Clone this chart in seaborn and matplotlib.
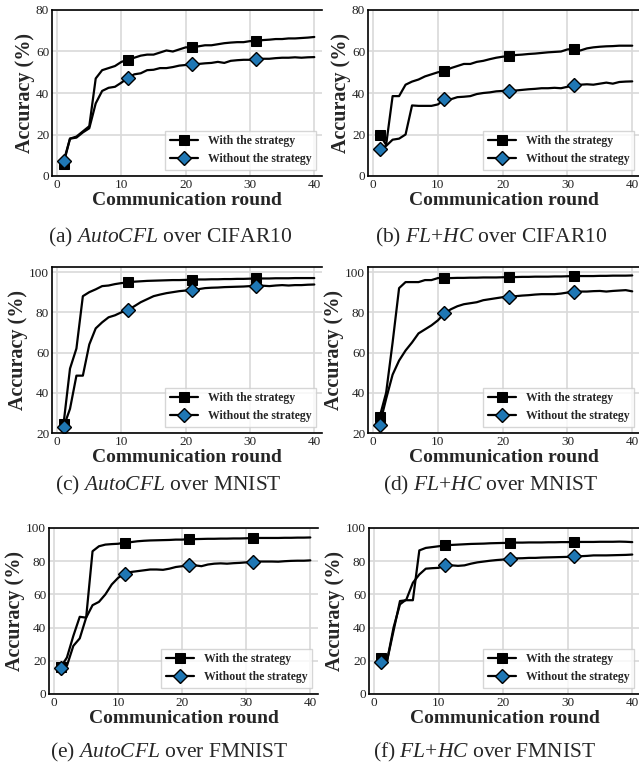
import numpy as np
import pandas as pd
import matplotlib
matplotlib.use('Agg')
import matplotlib.pyplot as plt
import seaborn as sns

rounds = list(range(1, 41))

# (a) AutoCFL over CIFAR10
a_with = [6, 18, 19, 21.5, 24, 47, 51, 52, 53, 55, 56, 57, 58, 58.5, 58.5, 59.5, 60.5, 60, 61, 62,
          62, 62.5, 63, 63, 63.5, 64, 64.3, 64.5, 64.5, 65, 65, 65.5, 65.7, 66, 66, 66.3, 66.3, 66.5, 66.7, 67]
a_without = [7, 18, 18.5, 21, 23, 35, 41, 42.5, 43, 45, 47.3, 49, 49.5, 51, 51.2, 52, 52, 52.5, 53.2, 53.5,
             53.8, 54, 54.3, 54.5, 55, 54.5, 55.5, 55.8, 56, 56, 56.3, 56.5, 56.5, 56.8, 57, 57, 57.2, 57, 57.2, 57.3]

# (b) FL+HC over CIFAR10
b_with = [20, 15, 38.5, 38.5, 44, 45.5, 46.5, 48, 49, 50, 50.5, 52, 53, 54, 54, 55, 55.5, 56.3, 57, 57.5,
          57.8, 58.3, 58.5, 58.8, 59, 59.3, 59.6, 59.8, 60, 61, 61.2, 60.5, 61.5, 62, 62.3, 62.5, 62.6, 62.8, 62.8, 62.8]
b_without = [13, 14.5, 17.5, 18, 20, 34, 33.8, 33.8, 33.8, 34.5, 37, 37, 38, 38.2, 38.5, 39.5, 40, 40.3, 40.8, 41,
             41, 41.2, 41.5, 41.8, 42, 42.3, 42.3, 42.5, 42.3, 43, 43.8, 44, 44.2, 44, 44.5, 45, 44.5, 45.3, 45.5, 45.6]

# (c) AutoCFL over MNIST
c_with = [24.6, 52, 62, 88, 90, 91.4, 93, 93.3, 94, 94.5, 94.8, 95.2, 95.4, 95.6, 95.7, 95.8, 95.9, 96, 96, 96.1,
          96.2, 96.3, 96.3, 96.4, 96.4, 96.5, 96.5, 96.6, 96.6, 96.7, 96.8, 96.8, 96.8, 96.9, 96.9, 96.9, 97, 97, 97, 97]
c_without = [23, 32, 48.5, 48.5, 64, 72, 75, 77.5, 78.5, 80, 81.2, 83, 85, 86.5, 88, 88.8, 89.5, 90, 90.5, 90.8,
             91, 91.5, 92, 92.2, 92.3, 92.5, 92.6, 92.7, 92.8, 93, 93, 93.2, 93, 93.3, 93.5, 93.3, 93.5, 93.5, 93.7, 93.8]

# (d) FL+HC over MNIST
d_with = [28, 40, 65, 92, 95, 95, 95, 96, 96, 97, 97, 97, 97.1, 97.1, 97.2, 97.2, 97.3, 97.3, 97.3, 97.4,
          97.5, 97.5, 97.6, 97.6, 97.7, 97.7, 97.7, 97.8, 97.8, 97.9, 98, 98, 98, 98, 98.1, 98.1, 98.2, 98.2, 98.2, 98.3]
d_without = [24, 37, 49, 56, 61, 65, 69.5, 71.5, 73.5, 76, 79.5, 81.5, 83, 84, 84.5, 85, 86, 86.5, 87, 87.5,
             87.8, 88, 88.3, 88.5, 88.8, 89, 89, 89, 89.3, 89.8, 90.2, 90.3, 90.3, 90.5, 90.6, 90.3, 90.6, 90.8, 91, 90.4]

# (e) AutoCFL over FMNIST
e_with = [16, 22, 35, 46.5, 46, 86, 89, 90, 90.3, 90.5, 91.2, 91.5, 92, 92.3, 92.5, 92.6, 92.7, 92.8, 93, 93,
          93.3, 93.3, 93.4, 93.5, 93.5, 93.6, 93.6, 93.7, 93.7, 93.8, 94, 94, 94, 94, 94, 94.1, 94.1, 94.2, 94.2, 94.3]
e_without = [15.5, 17, 29, 33.5, 46, 53.5, 55.5, 60, 66, 70, 72.5, 73.5, 74, 74.5, 75, 75, 74.8, 75.5, 76.5, 77,
             77.5, 77.5, 77, 78, 78.5, 78.7, 78.5, 78.8, 79, 79.3, 79.6, 79.8, 79.8, 79.8, 79.7, 80, 80.2, 80.3, 80.3, 80.5]

# (f) FL+HC over FMNIST
f_with = [21.5, 20, 38, 56, 56.5, 56.5, 86.5, 88, 88.5, 89, 89.5, 89.8, 90, 90.2, 90.4, 90.5, 90.6, 90.8, 90.9, 91,
          91, 91.2, 91.2, 91.3, 91.3, 91.3, 91.4, 91.4, 91.5, 91.5, 91.5, 91.6, 91.6, 91.6, 91.7, 91.7, 91.7, 91.8, 91.7, 91.5]
f_without = [19.5, 20, 40, 54, 57, 67, 72, 75.5, 75.8, 76, 77.5, 77.5, 77.2, 77.5, 78.5, 79.3, 79.8, 80.3, 80.7, 81,
             81.2, 81.7, 81.8, 82, 82, 82.2, 82.3, 82.4, 82.5, 82.6, 83, 83, 83.2, 83.5, 83.5, 83.5, 83.6, 83.7, 83.8, 84]

captions = [r'(a) $\mathit{AutoCFL}$ over CIFAR10', r'(b) $\mathit{FL}$+$\mathit{HC}$ over CIFAR10',
            r'(c) $\mathit{AutoCFL}$ over MNIST', r'(d) $\mathit{FL}$+$\mathit{HC}$ over MNIST',
            r'(e) $\mathit{AutoCFL}$ over FMNIST', r'(f) $\mathit{FL}$+$\mathit{HC}$ over FMNIST']
series = [(a_with, a_without), (b_with, b_without), (c_with, c_without),
          (d_with, d_without), (e_with, e_without), (f_with, f_without)]
ylims = [(0, 80), (0, 80), (20, 102.5), (20, 102.5), (0, 100), (0, 100)]
yticks = [[0, 20, 40, 60, 80], [0, 20, 40, 60, 80], [20, 40, 60, 80, 100], [20, 40, 60, 80, 100],
          [0, 20, 40, 60, 80, 100], [0, 20, 40, 60, 80, 100]]

sns.set_style('whitegrid')
plt.rcParams['font.family'] = ['Liberation Serif', 'DejaVu Serif']
plt.rcParams['mathtext.fontset'] = 'custom'
plt.rcParams['mathtext.rm'] = 'Liberation Serif'
plt.rcParams['mathtext.it'] = 'Liberation Serif:italic'

W, H = 639, 773
fig = plt.figure(figsize=(W / 100, H / 100), dpi=100)

# axes boxes in pixels: left, top, right, bottom
boxes = [(52, 10, 322, 176), (368, 10, 640, 176),
         (52, 267, 322, 433), (368, 267, 640, 433),
         (49, 528, 318, 694), (369, 528, 640, 694)]
cap_pos = [(170, 237), (491, 237), (168, 485), (490, 485), (169, 752), (485, 752)]

for i, (l, t, r, b) in enumerate(boxes):
    ax = fig.add_axes([l / W, 1 - b / H, (r - l) / W, (b - t) / H])
    yw, ywo = series[i]
    df = pd.DataFrame({'round': rounds, 'with': yw, 'without': ywo})
    sns.lineplot(data=df, x='round', y='with', ax=ax, color='black', lw=1.6,
                 marker='s', markersize=7.5, markerfacecolor='black', markeredgecolor='black',
                 markevery=10, label='With the strategy')
    sns.lineplot(data=df, x='round', y='without', ax=ax, color='black', lw=1.6,
                 marker='D', markersize=7.5, markerfacecolor='#1f77b4', markeredgecolor='black',
                 markeredgewidth=1.0, markevery=10, label='Without the strategy')
    ax.set_xlim(-0.8, 41.2)
    ax.set_ylim(*ylims[i])
    ax.set_xticks([0, 10, 20, 30, 40])
    ax.set_yticks(yticks[i])
    ax.grid(True, color='#d9d9d9', lw=1.2)
    ax.tick_params(direction='in', length=3, labelsize=9.5, colors='#222222', pad=2)
    for side in ['left', 'bottom', 'top']:
        ax.spines[side].set_color('black')
        ax.spines[side].set_linewidth(1.2)
    ax.spines['right'].set_visible(False)
    ax.set_xlabel('Communication round', fontsize=14, fontweight='bold', labelpad=1)
    ax.set_ylabel('Accuracy (%)', fontsize=14.5, fontweight='bold', labelpad=1)
    ax.legend(loc='lower right', prop={'weight': 'bold', 'size': 8.5}, handlelength=2.4,
              labelspacing=0.5, edgecolor='#cccccc', fancybox=False, borderaxespad=0.5)
    fig.text(cap_pos[i][0] / W, 1 - cap_pos[i][1] / H, captions[i], fontsize=15.5,
             ha='center', va='center')

fig.savefig('out.png', dpi=100)
